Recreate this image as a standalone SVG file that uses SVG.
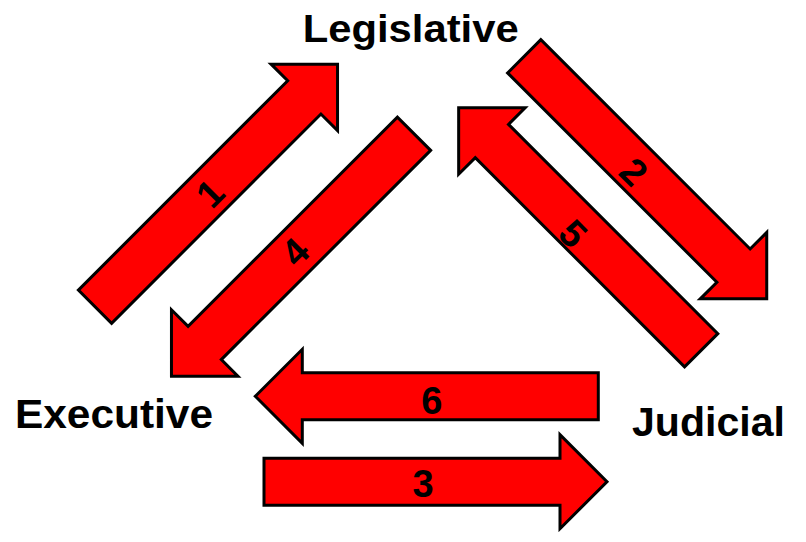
<svg xmlns="http://www.w3.org/2000/svg" xmlns:xlink="http://www.w3.org/1999/xlink" width="806" height="542" viewBox="0 0 806 542">
<style>
.arrow{fill:#ff0000;stroke:#000;stroke-width:3;stroke-linejoin:miter}
.num{font-family:"Liberation Sans",Arial,sans-serif;font-weight:bold;font-size:38px;fill:#000;text-anchor:middle}
.branch{font-family:"Liberation Sans",Arial,sans-serif;font-weight:bold;fill:#000}
</style>
<defs>
<path id="arr" d="M0,-23.5 L296,-23.5 L296,-47 L343,0 L296,47 L296,23.5 L0,23.5 Z"/>
</defs>
<rect width="806" height="542" fill="#fff"/>
<g id="connectors">
<g id="arrow1"><use xlink:href="#arr" class="arrow" transform="translate(95,306.7) rotate(-45)"/><text class="num" transform="translate(210,193.3) rotate(-45)" y="13.5">1</text></g>
<g id="arrow4"><use xlink:href="#arr" class="arrow" transform="translate(414,133.7) rotate(135)"/><text class="num" transform="translate(295,251.7) rotate(-45)" y="13.5">4</text></g>
<g id="arrow2"><use xlink:href="#arr" class="arrow" transform="translate(524.2,56.3) rotate(45)"/><text class="num" transform="translate(634,171.7) rotate(45)" y="13.5">2</text></g>
<g id="arrow5"><use xlink:href="#arr" class="arrow" transform="translate(701.2,350.3) rotate(-135)"/><text class="num" transform="translate(573.3,233.3) rotate(45)" y="13.5">5</text></g>
<g id="arrow6"><use xlink:href="#arr" class="arrow" transform="translate(598.3,396.3) rotate(180)"/><text class="num" x="431.7" y="414">6</text></g>
<g id="arrow3"><use xlink:href="#arr" class="arrow" transform="translate(264,481.7)"/><text class="num" x="423" y="496.5">3</text></g>
</g>
<g id="legislative"><text class="branch" x="302.7" y="41.7" font-size="38" textLength="216" lengthAdjust="spacingAndGlyphs">Legislative</text></g>
<g id="executive"><text class="branch" x="15" y="428.3" font-size="40" textLength="198" lengthAdjust="spacingAndGlyphs">Executive</text></g>
<g id="judicial"><text class="branch" x="632" y="436" font-size="41" textLength="153" lengthAdjust="spacingAndGlyphs">Judicial</text></g>
</svg>
